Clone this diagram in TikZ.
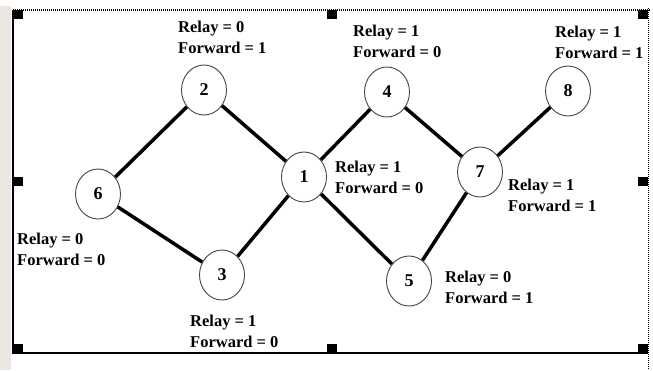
\documentclass[tikz,border=0pt]{standalone}
\usepackage{fontspec}
\setmainfont{Liberation Serif}
\usetikzlibrary{shapes.geometric}
\definecolor{strip}{RGB}{237,231,227}
\definecolor{ring}{RGB}{70,70,70}
\newcommand{\rflabel}[2]{\vtop{\baselineskip=21.5pt\hbox{Relay = #1}\hbox{Forward = #2}}}
\tikzset{
  nd/.style={ellipse, draw=ring, line width=0.9pt, minimum width=45pt, minimum height=50pt, inner sep=0pt, font=\fontsize{18}{20}\selectfont\bfseries},
  lbl/.style={anchor=base west, inner sep=0pt, font=\fontsize{16.5}{20}\selectfont\bfseries},
  lnk/.style={line width=3.5pt, black},
  handle/.style={fill=black, draw=none}
}
\begin{document}
\begin{tikzpicture}[x=1pt,y=-1pt]
\useasboundingbox (0,0) rectangle (653,370);
\fill[white] (0,0) rectangle (653,370);
\fill[strip] (0,6) rectangle (11,370);
% frame
\draw[line width=1.2pt] (13,10) -- (13,353) -- (648,353);
\draw[line width=2pt, dash pattern=on 1pt off 1pt] (13,9.5) -- (650,9.5);
\draw[line width=1pt, dash pattern=on 1pt off 1pt] (648,8) -- (648,370);
\foreach \hx/\hy in {13/10, 327/10, 638/10, 638/177, 638/344, 327/344, 13/344, 13/177}
  \fill[handle] (\hx,\hy) rectangle ++(10,9);
% nodes
\node[nd] (n2) at (204,90) {2};
\node[nd] (n4) at (387,92) {4};
\node[nd] (n8) at (568,91) {8};
\node[nd] (n1) at (304,177) {1};
\node[nd] (n7) at (480,172) {7};
\node[nd] (n6) at (98,194) {6};
\node[nd] (n3) at (222,275) {3};
\node[nd] (n5) at (409,281) {5};
% links
\draw[lnk] (n6) -- (n2);
\draw[lnk] (n2) -- (n1);
\draw[lnk] (n1) -- (n4);
\draw[lnk] (n4) -- (n7);
\draw[lnk] (n7) -- (n8);
\draw[lnk] (n6) -- (n3);
\draw[lnk] (n3) -- (n1);
\draw[lnk] (n1) -- (n5);
\draw[lnk] (n5) -- (n7);
% labels
\node[lbl] (t2) at (178,32) {\rflabel{0}{1}};
\node[lbl] (t4) at (353,36) {\rflabel{1}{0}};
\node[lbl] (t8) at (555,37) {\rflabel{1}{1}};
\node[lbl] (t1) at (335,172) {\rflabel{1}{0}};
\node[lbl] (t7) at (508,190) {\rflabel{1}{1}};
\node[lbl] (t6) at (17,244) {\rflabel{0}{0}};
\node[lbl] (t3) at (190,326) {\rflabel{1}{0}};
\node[lbl] (t5) at (445,282) {\rflabel{0}{1}};
\end{tikzpicture}
\end{document}
